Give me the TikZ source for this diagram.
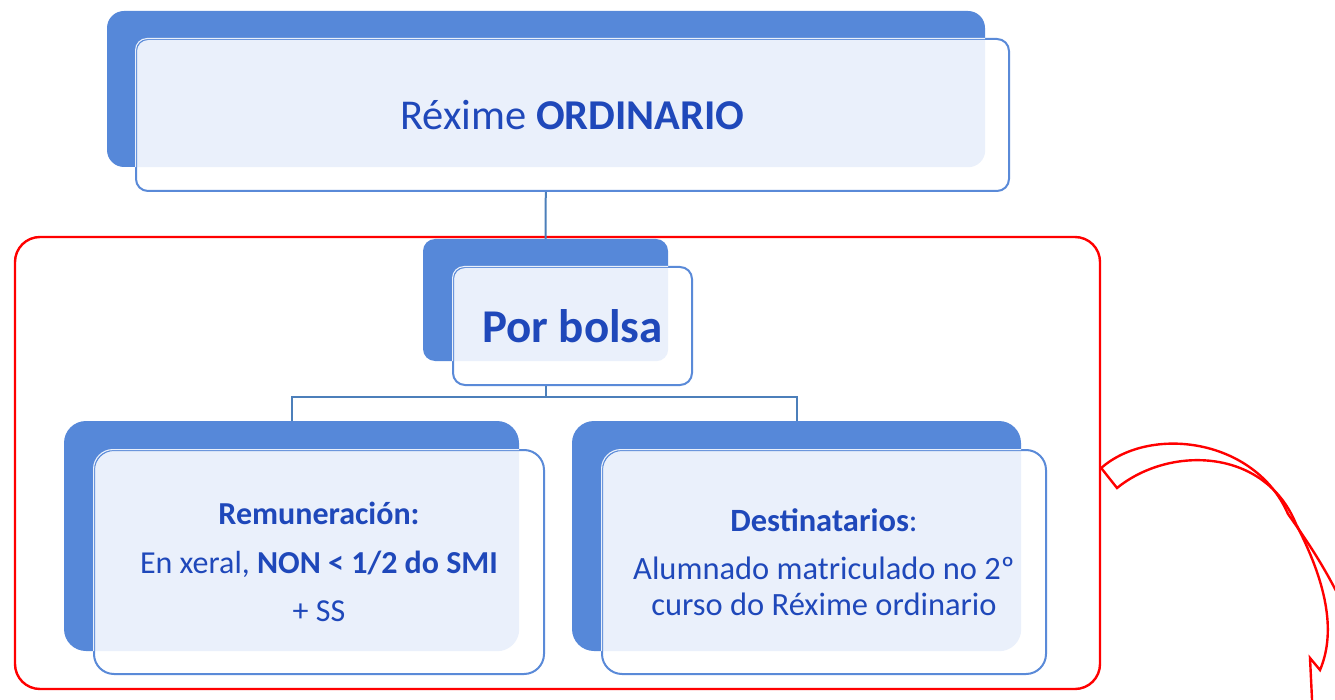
\documentclass[tikz,border=0pt]{standalone}
\usepackage{fontspec}
\setmainfont{Carlito}
\usetikzlibrary{calc}
\definecolor{txt}{RGB}{31,72,186}
\definecolor{backc}{RGB}{86,136,217}
\definecolor{edgec}{RGB}{90,138,216}
\definecolor{connc}{RGB}{76,127,186}
\definecolor{tintc}{RGB}{234,240,251}
\tikzset{
 backbox/.style={rectangle, fill=backc, draw=none, inner sep=0pt},
 frontbox/.style={rectangle, fill=white, draw=edgec, line width=2pt, inner sep=0pt, align=center, text=txt},
 tinted/.style n args={2}{path picture={\clip[rounded corners=#2] (#1.south west) rectangle (#1.north east);
   \fill[tintc] (path picture bounding box.south west) rectangle (path picture bounding box.north east);}},
 connline/.style={draw=connc, line width=2pt},
 groupframe/.style={rectangle, draw=red, line width=2.4pt, rounded corners=25pt, inner sep=0pt},
 bigarrow/.style={draw=red, line width=2.4pt, line join=miter},
}
\newcommand\hideedge[4]{% back, back radius, front, front radius
  \begin{scope}
    \clip[rounded corners=#2] (#1.south west) rectangle (#1.north east);
    \clip[rounded corners=#4] (#3.south west) rectangle (#3.north east);
    \draw[tintc, line width=2.2pt, rounded corners=#4] (#3.south west) rectangle (#3.north east);
  \end{scope}}
\begin{document}
\begin{tikzpicture}[x=1pt,y=-1pt]
\useasboundingbox (0,0) rectangle (1335,700);
\clip (0,0) rectangle (1335,700);
% group frame
\node[groupframe, minimum width=1085pt, minimum height=452pt] (frame) at (557.5,463) {};
% node positions
\path (546,89) coordinate (topC) (545.5,300) coordinate (porC)
      (291.5,536) coordinate (remC) (796.5,536) coordinate (desC);
\coordinate (bar) at (545,397);
% connectors (behind the boxes)
\draw[connline] (topC) -- (porC);
\draw[connline] (porC) -- (porC |- bar) -| (remC);
\draw[connline] (porC |- bar) -| (desC);
% back boxes
\node[backbox, rounded corners=17pt, minimum width=878pt, minimum height=156pt] (topB) at (topC) {};
\node[backbox, rounded corners=12pt, minimum width=245pt, minimum height=122pt] (porB) at (porC) {};
\node[backbox, rounded corners=22pt, minimum width=455pt, minimum height=230pt] (remB) at (remC) {};
\node[backbox, rounded corners=22pt, minimum width=449pt, minimum height=230pt] (desB) at (desC) {};
% front boxes
\node[frontbox, rounded corners=12pt, minimum width=873pt, minimum height=152pt, tinted={topB}{17pt},
  font=\fontsize{42.5}{49}\selectfont] (topF) at (572.5,115) {Réxime \textbf{ORDINARIO}};
\node[frontbox, rounded corners=12pt, minimum width=239pt, minimum height=118pt, tinted={porB}{12pt},
  font=\fontsize{47}{52}\selectfont\bfseries] (porF) at (572.5,326) {Por bolsa};
\node[frontbox, rounded corners=20pt, minimum width=450pt, minimum height=224pt, tinted={remB}{22pt},
  font=\fontsize{32}{48.5}\selectfont] (remF) at (319,562) {\textbf{Remuneración:}\\En xeral, \textbf{NON < 1/2 do SMI}\\+ SS};
\node[frontbox, rounded corners=20pt, minimum width=444pt, minimum height=224pt, tinted={desB}{22pt},
  font=\fontsize{32.5}{36}\selectfont] (desF) at (824,562) {\textbf{Destinatarios}:\\[12pt]Alumnado matriculado no 2º\\curso do Réxime ordinario};
\hideedge{topB}{17pt}{topF}{12pt}
\hideedge{porB}{12pt}{porF}{12pt}
\hideedge{remB}{22pt}{remF}{20pt}
\hideedge{desB}{22pt}{desF}{20pt}
% curved arrow
\coordinate (t1) at (frame.east |- 0,468);
\coordinate (t2) at (1117,488);
\draw[bigarrow] (t1) .. controls (1150,425) and (1255,438) .. (1288,514) .. controls (1310,545) and (1330,575) .. (1350,620);
\draw[bigarrow] (t1) -- (t2) .. controls (1170,445) and (1265,448) .. (1296,524) .. controls (1325,580) and (1337,630) .. (1320,670) -- (1310,658) -- (1313,720);
\end{tikzpicture}
\end{document}
